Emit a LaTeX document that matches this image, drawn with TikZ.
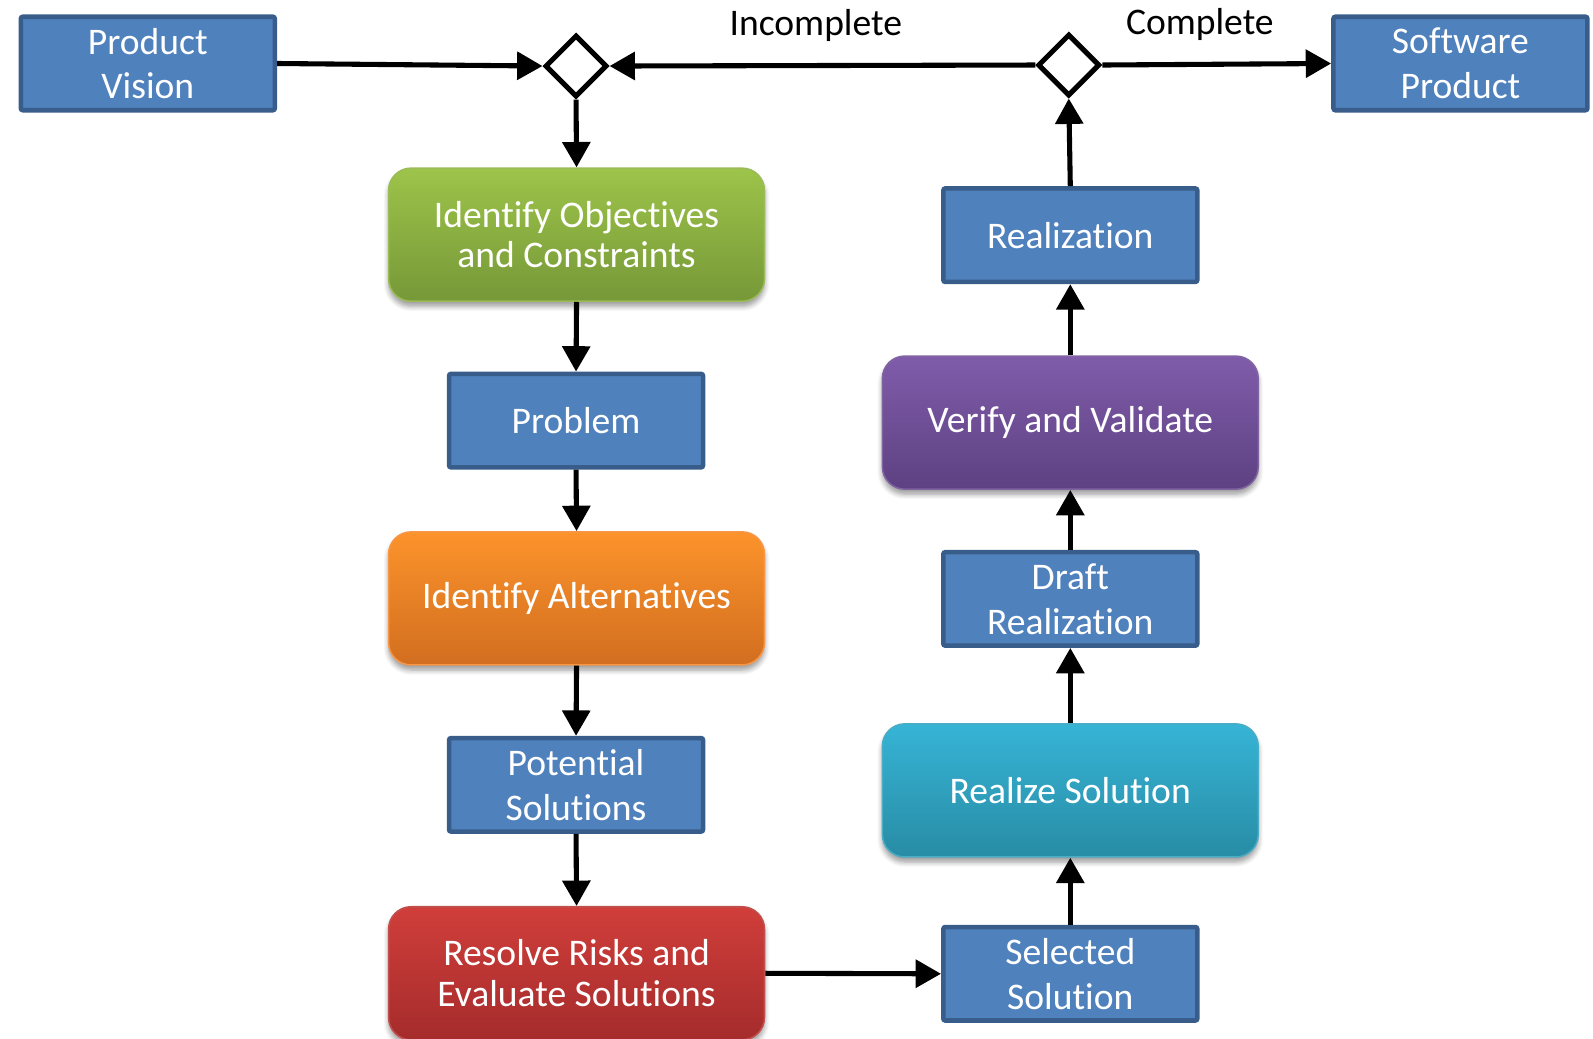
\documentclass[tikz,border=0pt]{standalone}
\usepackage{fontspec}
\setmainfont{Carlito}[Ligatures={NoCommon,NoRequired,NoContextual,NoRare},Contextuals={NoAlternate},RawFeature={-liga;-clig;-dlig;-calt}]
\usetikzlibrary{arrows.meta,shapes.geometric,shadows.blur}

\definecolor{boxfill}{RGB}{79,129,189}
\definecolor{boxline}{RGB}{56,93,138}
\definecolor{greenT}{RGB}{157,196,74}
\definecolor{greenB}{RGB}{118,152,56}
\definecolor{greenL}{RGB}{155,187,89}
\definecolor{orangeT}{RGB}{252,147,43}
\definecolor{orangeB}{RGB}{210,110,32}
\definecolor{orangeL}{RGB}{247,150,70}
\definecolor{redT}{RGB}{208,62,58}
\definecolor{redB}{RGB}{165,44,44}
\definecolor{redL}{RGB}{192,80,77}
\definecolor{purpT}{RGB}{128,92,170}
\definecolor{purpB}{RGB}{93,65,130}
\definecolor{purpL}{RGB}{128,100,162}
\definecolor{tealT}{RGB}{54,180,214}
\definecolor{tealB}{RGB}{40,140,165}
\definecolor{tealL}{RGB}{75,172,198}

\tikzset{
  blk/.style={rectangle, draw=boxline, fill=boxfill, line width=4.5pt,
    minimum width=250pt, minimum height=92pt, inner sep=0pt,
    rounded corners=2pt, text=white, align=center,
    font=\fontsize{37}{44}\selectfont},
  task/.style={rectangle, rounded corners=22pt, line width=1.5pt,
    minimum width=370pt, minimum height=131pt, inner sep=0pt,
    text=white, align=center, font=\fontsize{37}{40}\selectfont,
    blur shadow={shadow xshift=0pt, shadow yshift=-5pt,
      shadow blur radius=5pt, shadow blur steps=6, shadow opacity=40}},
  gate/.style={diamond, draw=black, fill=white, line width=5pt,
    minimum width=61pt, minimum height=61pt, inner sep=0pt, aspect=1},
  flow/.style={line width=5pt, -{Triangle[width=27pt,length=25pt]}},
  lbl/.style={font=\fontsize{37}{44}\selectfont, text=black}
}

\begin{document}
\begin{tikzpicture}[x=1pt,y=-1pt]
\useasboundingbox (0,0) rectangle (1568,1022);

% end points and decisions along the top
\node[blk] (pv) at (145.5,62.5) {Product\\Vision};
\node[blk] (sp) at (1437.5,62.5) {Software\\Product};
\node[gate] (d1) at (567,65) {};
\node[gate] (d2) at (1052,64) {};
\node[lbl] (inc) at (803,25) {Incomplete};
\node[lbl] (cpl) at (1181,24) {Complete};

% left column: analysis
\node[task, draw=greenL, top color=greenT, bottom color=greenB] (obj) at (567.5,231) {Identify Objectives\\and Constraints};
\node[blk] (prob) at (567,414) {Problem};
\node[task, draw=orangeL, top color=orangeT, bottom color=orangeB] (alt) at (567.5,589) {Identify Alternatives};
\node[blk] (pot) at (567,772.5) {Potential\\Solutions};
\node[task, draw=redL, top color=redT, bottom color=redB] (risk) at (567.5,958) {Resolve Risks and\\Evaluate Solutions};

% right column: realization
\node[blk] (sel) at (1053.5,958.5) {Selected\\Solution};
\node[task, draw=tealL, top color=tealT, bottom color=tealB] (rsol) at (1053.5,778) {Realize Solution};
\node[blk] (draft) at (1053.5,589.5) {Draft\\Realization};
\node[task, draw=purpL, top color=purpT, bottom color=purpB] (vv) at (1053.5,416) {Verify and Validate};
\node[blk] (real) at (1053.5,231.5) {Realization};

% connectors
\draw[flow] (pv.east) -- (d1.west);
\draw[flow] (d2.west) -- (d1.east);
\draw[flow] (d2.east) -- (sp.west);
\draw[flow] (d1.south) -- (obj.north);
\draw[flow] (obj.south) -- (prob.north);
\draw[flow] (prob.south) -- (alt.north);
\draw[flow] (alt.south) -- (pot.north);
\draw[flow] (pot.south) -- (risk.north);
\draw[flow] (risk.east) -- (sel.west);
\draw[flow] (sel.north) -- (rsol.south);
\draw[flow] (rsol.north) -- (draft.south);
\draw[flow] (draft.north) -- (vv.south);
\draw[flow] (vv.north) -- (real.south);
\draw[flow] (real.north) -- (d2.south);
\end{tikzpicture}
\end{document}
